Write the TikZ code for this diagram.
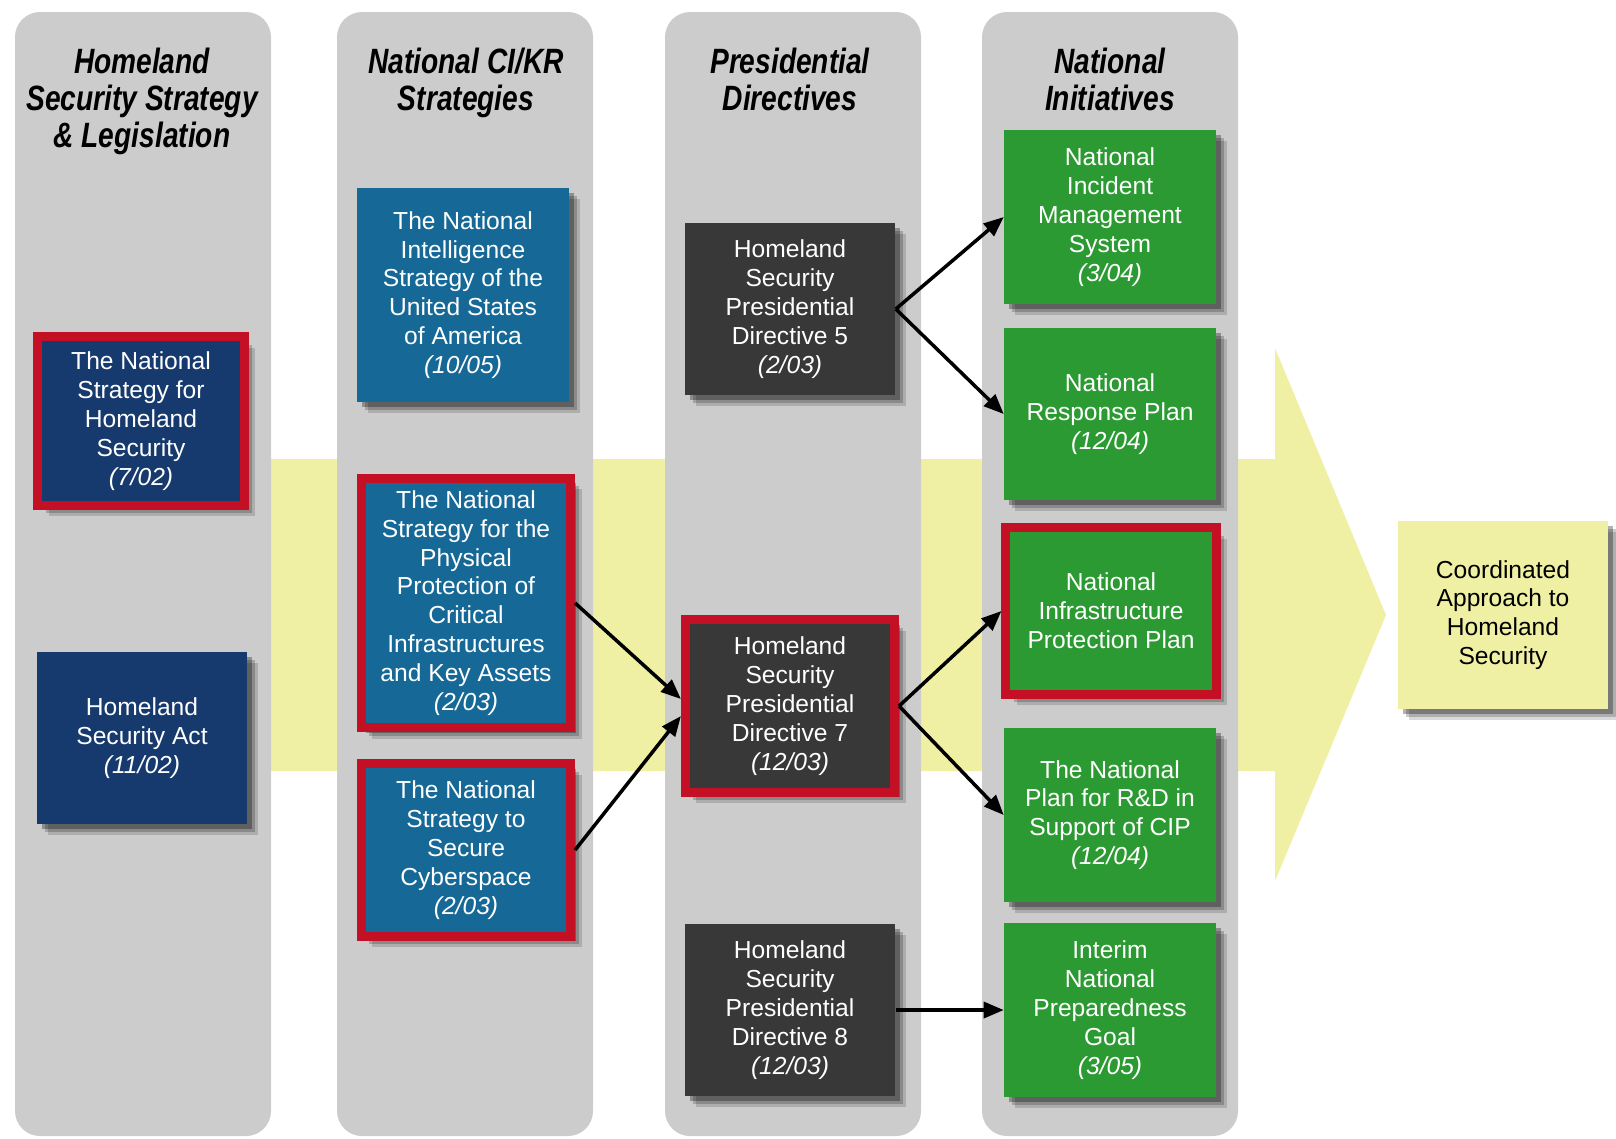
\documentclass[tikz,border=0pt]{standalone}
\usepackage{fontspec}
\setmainfont{Liberation Sans}
\newfontfamily\titlefont[FakeStretch=0.8]{Liberation Sans}
\usetikzlibrary{arrows.meta,shadows}

\definecolor{columngray}{RGB}{204,204,204}
\definecolor{flowyellow}{RGB}{240,240,164}
\definecolor{navyblue}{RGB}{22,58,110}
\definecolor{cikrblue}{RGB}{22,104,150}
\definecolor{hspdgray}{RGB}{56,56,56}
\definecolor{initgreen}{RGB}{44,154,50}
\definecolor{keyred}{RGB}{196,16,36}

\newcommand{\when}[1]{\textit{(#1)}}

\begin{document}
\begin{tikzpicture}[x=0.01cm,y=-0.01cm]
% Styles
\tikzstyle{column}=[fill=columngray,rounded corners=0.25cm]
\tikzstyle{column title}=[anchor=north,align=center,inner sep=0pt,font=\titlefont\bfseries\itshape\fontsize{10}{10.5}\selectfont]
\tikzstyle{soft shadow}=[drop shadow={shadow xshift=0.11cm,shadow yshift=-0.11cm,opacity=0.15,fill=black},
  drop shadow={shadow xshift=0.08cm,shadow yshift=-0.08cm,opacity=0.2,fill=black},
  drop shadow={shadow xshift=0.05cm,shadow yshift=-0.05cm,opacity=0.3,fill=black}]
\tikzstyle{doc box}=[align=center,inner sep=0pt,text=white,font=\fontsize{7}{8.2}\selectfont,soft shadow]
\tikzstyle{key doc}=[draw=keyred,line width=0.09cm]
\tikzstyle{link}=[-{Triangle[length=0.2cm,width=0.16cm]},line width=0.035cm]

\useasboundingbox (0,0) rectangle (1616,1138);

% the big arrow behind the columns
\fill[flowyellow] (200,459) -- (1275,459) -- (1275,348) -- (1386,615)
  -- (1275,881) -- (1275,771) -- (200,771) -- cycle;

% draw the columns
\foreach \cx in {15,337,665,982} {
\fill[column] (\cx,12) rectangle +(256,1124);
}

\node[column title] (title1) at (142,47) {Homeland\\Security Strategy\\\& Legislation};
\node[column title] (title2) at (466,47) {National CI/KR\\Strategies};
\node[column title] (title3) at (790,47) {Presidential\\Directives};
\node[column title] (title4) at (1110,47) {National\\Initiatives};

% strategy and legislation
\node[doc box,key doc,fill=navyblue,minimum width=2.06cm,minimum height=1.68cm] (hss) at (141,421)
  {The National\\Strategy for\\Homeland\\Security\\\when{7/02}};
\node[doc box,fill=navyblue,minimum width=2.1cm,minimum height=1.71cm] (hsa) at (142,738)
  {Homeland\\Security Act\\\when{11/02}};

% national ci/kr strategies
\node[doc box,fill=cikrblue,minimum width=2.11cm,minimum height=2.13cm] (nis) at (463,295)
  {The National\\Intelligence\\Strategy of the\\United States\\of America\\\when{10/05}};
\node[doc box,key doc,fill=cikrblue,minimum width=2.09cm,minimum height=2.49cm] (ppcikr) at (466,603)
  {The National\\Strategy for the\\Physical\\Protection of\\Critical\\Infrastructures\\and Key Assets\\\when{2/03}};
\node[doc box,key doc,fill=cikrblue,minimum width=2.09cm,minimum height=1.72cm] (ssc) at (466,850)
  {The National\\Strategy to\\Secure\\Cyberspace\\\when{2/03}};

% presidential directives
\node[doc box,fill=hspdgray,minimum width=2.1cm,minimum height=1.71cm] (hspd5) at (790,309)
  {Homeland\\Security\\Presidential\\Directive 5\\\when{2/03}};
\node[doc box,key doc,fill=hspdgray,minimum width=2.09cm,minimum height=1.72cm] (hspd7) at (790,706)
  {Homeland\\Security\\Presidential\\Directive 7\\\when{12/03}};
\node[doc box,fill=hspdgray,minimum width=2.1cm,minimum height=1.72cm] (hspd8) at (790,1010)
  {Homeland\\Security\\Presidential\\Directive 8\\\when{12/03}};

% national initiatives
\node[doc box,fill=initgreen,minimum width=2.11cm,minimum height=1.74cm] (nims) at (1110,217)
  {National\\Incident\\Management\\System\\\when{3/04}};
\node[doc box,fill=initgreen,minimum width=2.11cm,minimum height=1.72cm] (nrp) at (1110,414)
  {National\\Response Plan\\\when{12/04}};
\node[doc box,key doc,fill=initgreen,minimum width=2.1cm,minimum height=1.66cm] (nipp) at (1111,611)
  {National\\Infrastructure\\Protection Plan};
\node[doc box,fill=initgreen,minimum width=2.11cm,minimum height=1.73cm] (rdcip) at (1110,815)
  {The National\\Plan for R\&D in\\Support of CIP\\\when{12/04}};
\node[doc box,fill=initgreen,minimum width=2.11cm,minimum height=1.74cm] (npg) at (1110,1010)
  {Interim\\National\\Preparedness\\Goal\\\when{3/05}};

% the outcome
\node[doc box,fill=flowyellow,text=black,minimum width=2.1cm,minimum height=1.87cm] (coord) at (1503,615)
  {Coordinated\\Approach to\\Homeland\\Security};

% add the arrows between the documents
\draw[link] (hspd5.east) -- (nims.west);
\draw[link] (hspd5.east) -- (nrp.west);
\draw[link] (ppcikr.east) -- ([yshift=0.07cm]hspd7.west);
\draw[link] (ssc.east) -- ([yshift=-0.1cm]hspd7.west);
\draw[link] (hspd7.east) -- (nipp.west);
\draw[link] (hspd7.east) -- (rdcip.west);
\draw[link] (hspd8.east) -- (npg.west);

\end{tikzpicture}
\end{document}
